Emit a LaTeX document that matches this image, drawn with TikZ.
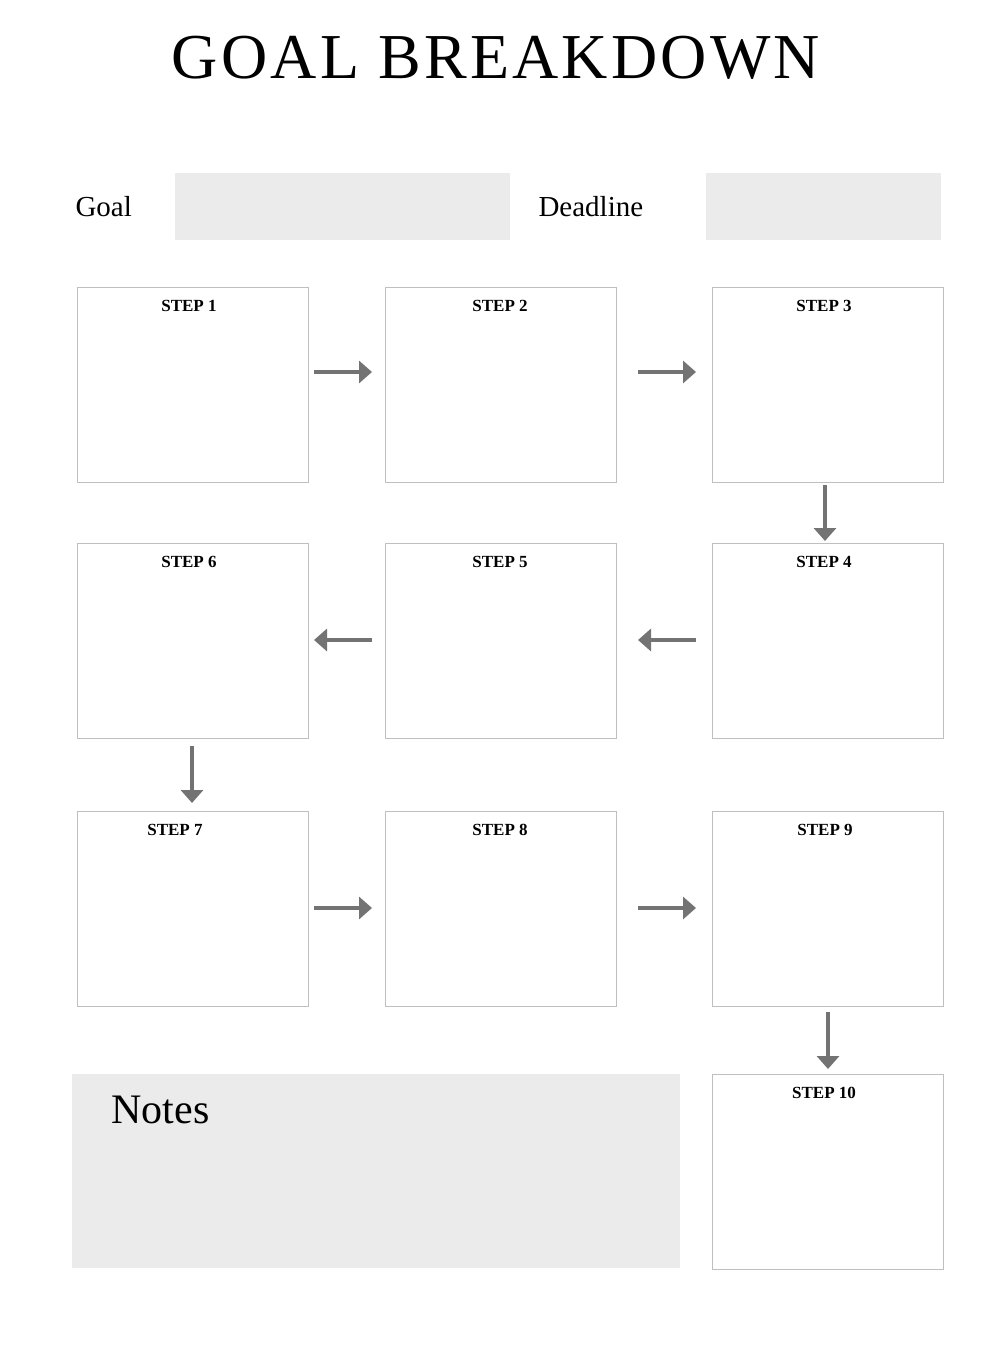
\documentclass[tikz,border=0pt]{standalone}
\usepackage{fontspec}
\setmainfont{Liberation Serif}
\usetikzlibrary{arrows.meta}
\tikzset{
  stepbox/.style={draw=black!25,line width=0.8pt},
  steplabel/.style={font=\fontsize{17}{17}\selectfont\bfseries,anchor=north},
  field/.style={fill=black!8},
  flow/.style={draw=black!55,line width=4pt,-{Triangle[length=13pt,width=22pt]}}
}
\begin{document}
\begin{tikzpicture}[x=1pt,y=-1pt]
  \useasboundingbox (0,0) rectangle (1006,1354);
  \node (title) at (496,58) {\fontsize{64}{64}\selectfont\addfontfeature{LetterSpace=5}GOAL BREAKDOWN};
  % goal and deadline
  \node[anchor=west,font=\fontsize{29}{29}\selectfont] (goal) at (72,207) {Goal};
  \fill[field] (175,173) rectangle (510,240);
  \node[anchor=west,font=\fontsize{29}{29}\selectfont] (deadline) at (535,207) {Deadline};
  \fill[field] (706,173) rectangle (941,240);
  % step boxes
  \foreach \n/\x/\y/\lx in {1/77/287/189,2/385/287/500,3/712/287/824,
      6/77/543/189,5/385/543/500,4/712/543/824,
      7/77/811/175,8/385/811/500,9/712/811/825,10/712/1074/824}{
    \draw[stepbox] (\x,\y) rectangle ++(231,195);
    \node[steplabel] (s\n) at (\lx,\y+10) {STEP \n};
  }
  % notes
  \fill[field] (72,1074) rectangle (680,1268);
  \node[anchor=west,font=\fontsize{42}{42}\selectfont] (notes) at (108,1110) {Notes};
  % arrows
  \coordinate (a1) at (314,372); \coordinate (b1) at (372,372);
  \coordinate (a2) at (638,372); \coordinate (b2) at (696,372);
  \coordinate (a3) at (825,485); \coordinate (b3) at (825,541);
  \coordinate (a4) at (696,640); \coordinate (b4) at (638,640);
  \coordinate (a5) at (372,640); \coordinate (b5) at (314,640);
  \coordinate (a6) at (192,746); \coordinate (b6) at (192,803);
  \coordinate (a7) at (314,908); \coordinate (b7) at (372,908);
  \coordinate (a8) at (638,908); \coordinate (b8) at (696,908);
  \coordinate (a9) at (828,1012); \coordinate (b9) at (828,1069);
  \foreach \i in {1,...,9}{\draw[flow] (a\i) -- (b\i);}
\end{tikzpicture}
\end{document}
